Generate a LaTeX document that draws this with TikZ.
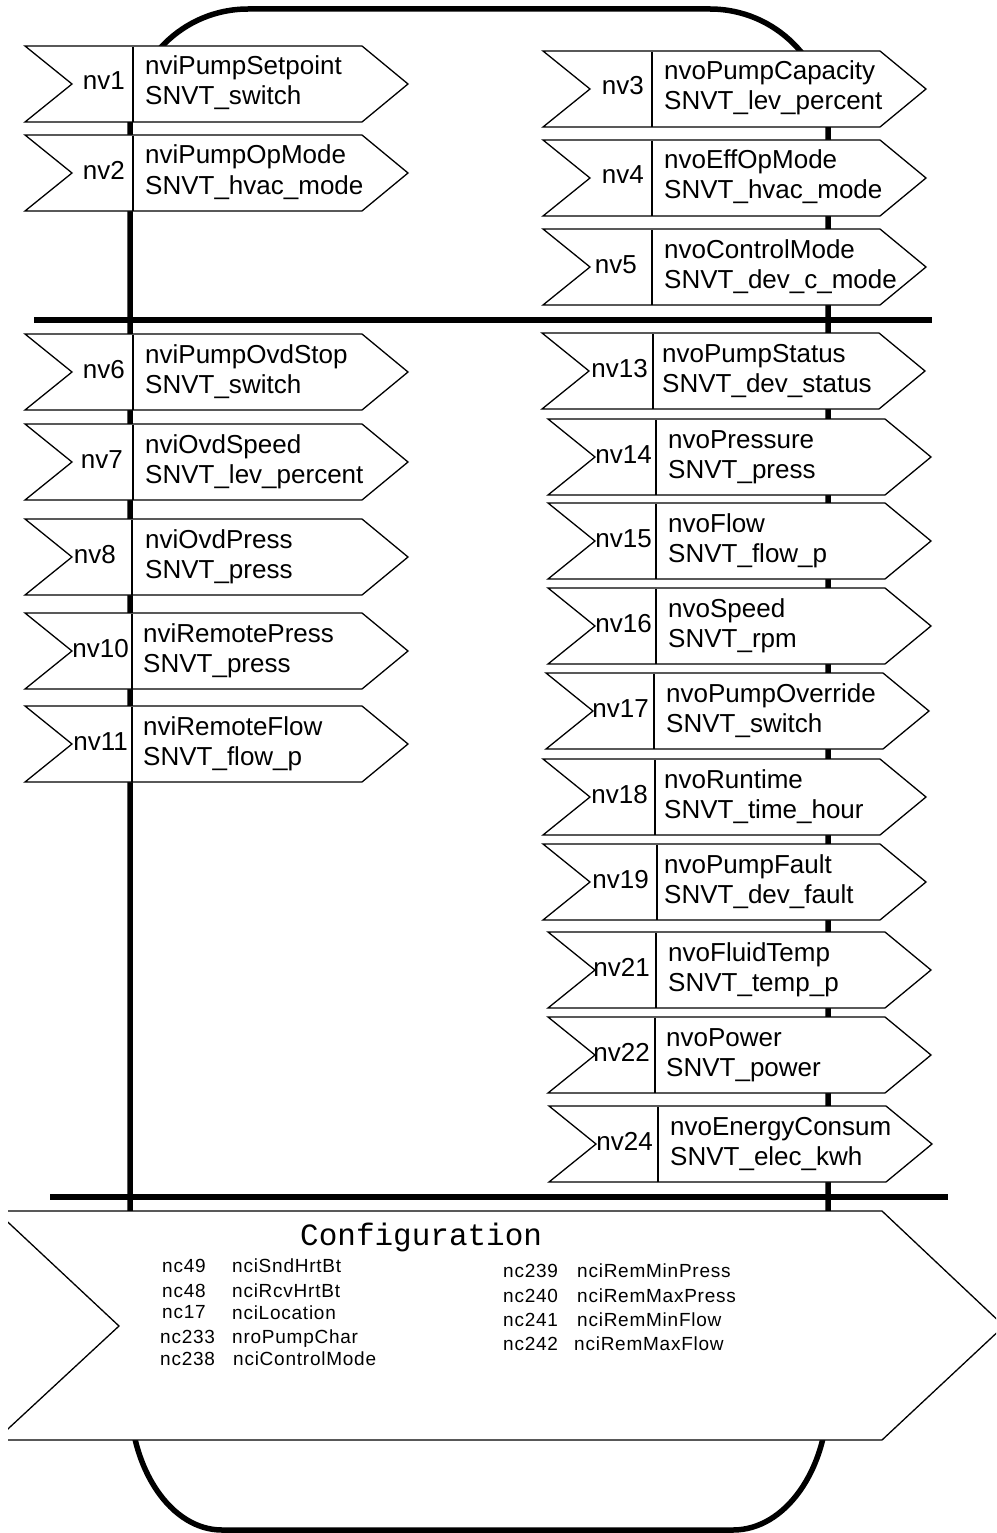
\documentclass[tikz,border=0pt]{standalone}
\usepackage{fontspec}
\setmainfont{Liberation Sans}
\newfontfamily\cfgmono{Liberation Mono}
\newfontfamily\ncfont[LetterSpace=4]{Liberation Sans}
\tikzset{
  frameline/.style={line width=5.5pt, line join=round},
  busline/.style={line width=5.5pt},
  boxline/.style={draw=black, fill=white, line width=1.3pt, line join=miter},
  divline/.style={line width=1.3pt},
  nvlbl/.style={inner sep=0pt, font=\fontsize{26}{30}\selectfont},
  nametxt/.style={inner sep=0pt, font=\fontsize{26}{30}\selectfont},
  cfgtitle/.style={inner sep=0pt, font=\cfgmono\fontsize{31}{35}\selectfont},
  nctxt/.style={inner sep=0pt, font=\ncfont\fontsize{19}{22}\selectfont},
}
% #1 id, #2 left x, #3 top y, #4 divider x, #5 label east x, #6 name x, #7 line1, #8 line2, #9 label
\newcommand{\flagbox}[9]{%
  \draw[boxline] (#2,#3) -- (#2+337,#3) -- (#2+383,#3+38) -- (#2+337,#3+76)
     -- (#2,#3+76) -- (#2+47,#3+38) -- cycle;
  \draw[divline] (#4,#3+1) -- (#4,#3+76);
  \node[nvlbl, anchor=base east] (#1l) at (#5,#3+44) {#9};
  \node[nametxt, anchor=base west] (#1a) at (#6,#3+29) {#7};
  \node[nametxt, anchor=base west] (#1b) at (#6,#3+59) {#8};
}
\begin{document}
\begin{tikzpicture}[x=1pt,y=-1pt]
\useasboundingbox (0,0) rectangle (996,1533);
\clip (0,0) rectangle (996,1533);
% outer rounded frame
\draw[frameline] (130,1395) -- (130,127)
  .. controls (130,61.9) and (182.9,9) .. (248,9) -- (710,9)
  .. controls (775.1,9) and (828,61.9) .. (828,127) -- (828,1395)
  .. controls (828,1469.5) and (785.4,1530) .. (733,1530) -- (222,1530)
  .. controls (171.2,1530) and (130,1469.5) .. (130,1395) -- cycle;
% bus lines
\draw[busline] (34,320) -- (932,320);
\draw[busline] (50,1197) -- (948,1197);
% left column
\flagbox{b1}{25}{46}{133}{125}{145}{nviPumpSetpoint}{SNVT\_switch}{nv1}
\flagbox{b2}{25}{135}{133}{125}{145}{nviPumpOpMode}{SNVT\_hvac\_mode}{nv2}
\flagbox{b6}{25}{334}{133}{125}{145}{nviPumpOvdStop}{SNVT\_switch}{nv6}
\flagbox{b7}{25}{424}{133}{123}{145}{nviOvdSpeed}{SNVT\_lev\_percent}{nv7}
\flagbox{b8}{25}{519}{132}{116}{145}{nviOvdPress}{SNVT\_press}{nv8}
\flagbox{b10}{25}{613}{132}{129}{143}{nviRemotePress}{SNVT\_press}{nv10}
\flagbox{b11}{25}{706}{132}{128}{143}{nviRemoteFlow}{SNVT\_flow\_p}{nv11}
% right column
\flagbox{b3}{543}{51}{652}{644}{664}{nvoPumpCapacity}{SNVT\_lev\_percent}{nv3}
\flagbox{b4}{543}{140}{652}{644}{664}{nvoEffOpMode}{SNVT\_hvac\_mode}{nv4}
\flagbox{b5}{543}{229}{652}{637}{664}{nvoControlMode}{SNVT\_dev\_c\_mode}{nv5}
\flagbox{b13}{542}{333}{653}{648}{662}{nvoPumpStatus}{SNVT\_dev\_status}{nv13}
\flagbox{b14}{548}{419}{656}{652}{668}{nvoPressure}{SNVT\_press}{nv14}
\flagbox{b15}{548}{503}{656}{652}{668}{nvoFlow}{SNVT\_flow\_p}{nv15}
\flagbox{b16}{548}{588}{656}{652}{668}{nvoSpeed}{SNVT\_rpm}{nv16}
\flagbox{b17}{546}{673}{654}{649}{666}{nvoPumpOverride}{SNVT\_switch}{nv17}
\flagbox{b18}{543}{759}{655}{648}{664}{nvoRuntime}{SNVT\_time\_hour}{nv18}
\flagbox{b19}{543}{844}{657}{649}{664}{nvoPumpFault}{SNVT\_dev\_fault}{nv19}
\flagbox{b21}{548}{932}{656}{650}{668}{nvoFluidTemp}{SNVT\_temp\_p}{nv21}
\flagbox{b22}{548}{1017}{655}{650}{666}{nvoPower}{SNVT\_power}{nv22}
\flagbox{b24}{549}{1106}{658}{653}{670}{nvoEnergyConsum}{SNVT\_elec\_kwh}{nv24}
% configuration box
\begin{scope}
  \clip (8,1200) rectangle (996,1450);
  \draw[boxline] (-4,1211) -- (882,1211) -- (1004,1326) -- (882,1440)
     -- (-4,1440) -- (119,1326) -- cycle;
\end{scope}
\node[cfgtitle, anchor=base west] (cfg) at (300,1245) {Configuration};
\node[nctxt, anchor=base west] (c49) at (162,1272) {nc49};
\node[nctxt, anchor=base west] (c49n) at (232,1272) {nciSndHrtBt};
\node[nctxt, anchor=base west] (c48) at (162,1297) {nc48};
\node[nctxt, anchor=base west] (c48n) at (232,1297) {nciRcvHrtBt};
\node[nctxt, anchor=base west] (c17) at (162,1318) {nc17};
\node[nctxt, anchor=base west] (c17n) at (232,1319) {nciLocation};
\node[nctxt, anchor=base west] (c233) at (160,1343) {nc233};
\node[nctxt, anchor=base west] (c233n) at (232,1343) {nroPumpChar};
\node[nctxt, anchor=base west] (c238) at (160,1365) {nc238};
\node[nctxt, anchor=base west] (c238n) at (233,1365) {nciControlMode};
\node[nctxt, anchor=base west] (c239) at (503,1277) {nc239};
\node[nctxt, anchor=base west] (c239n) at (577,1277) {nciRemMinPress};
\node[nctxt, anchor=base west] (c240) at (503,1302) {nc240};
\node[nctxt, anchor=base west] (c240n) at (577,1302) {nciRemMaxPress};
\node[nctxt, anchor=base west] (c241) at (503,1326) {nc241};
\node[nctxt, anchor=base west] (c241n) at (577,1326) {nciRemMinFlow};
\node[nctxt, anchor=base west] (c242) at (503,1350) {nc242};
\node[nctxt, anchor=base west] (c242n) at (574,1350) {nciRemMaxFlow};
\end{tikzpicture}
\end{document}
